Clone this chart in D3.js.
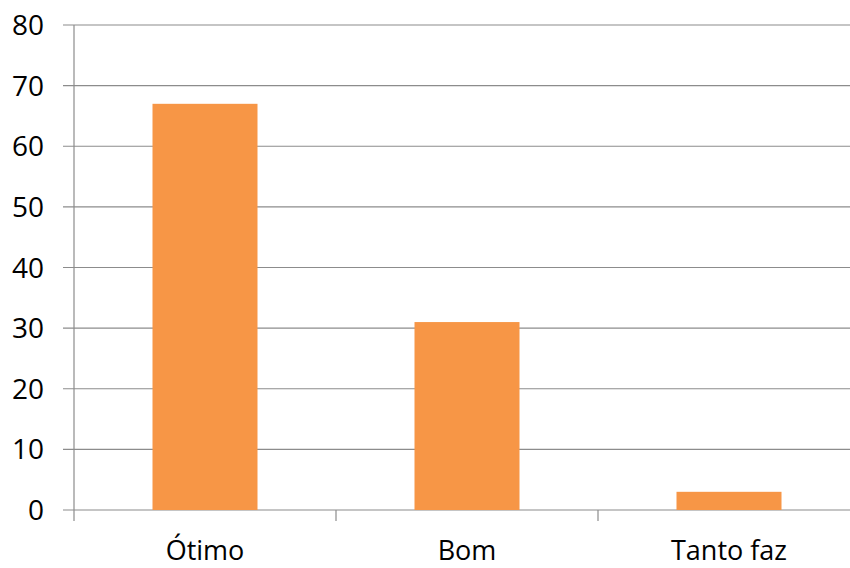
<!DOCTYPE html>
<html lang="en">
<head>
<meta charset="utf-8">
<title>Bar chart</title>
<script src="https://d3js.org/d3.v7.min.js"></script>
<style>
  body { margin: 0; background: #fff; }
  text { font-family: "Liberation Sans Narrow", "Open Sans", "DejaVu Sans Condensed", sans-serif; fill: #000; }
</style>
</head>
<body>
<script>
// data
var categories = ["Ótimo", "Bom", "Tanto faz"];
var values = [67, 31, 3];
var yTicks = [0, 10, 20, 30, 40, 50, 60, 70, 80];

var w = 850, h = 568;
var mLeft = 74, mRight = 860, mTop = 25, mBottom = 510;

var svg = d3.select("body").append("svg").attr("width", w).attr("height", h);

var x = d3.scaleBand().domain(categories).range([mLeft, mRight]).paddingInner(0).paddingOuter(0);
var y = d3.scaleLinear().domain([0, 80]).range([mBottom, mTop]);

// gridlines
svg.selectAll("line.grid")
  .data(yTicks)
  .enter().append("line")
    .attr("class", "grid")
    .attr("x1", mLeft - 11).attr("x2", w)
    .attr("y1", d => y(d)).attr("y2", d => y(d))
    .attr("stroke", "#8c8c8c").attr("stroke-width", 1.2);

// y axis line
svg.append("line")
  .attr("x1", mLeft).attr("x2", mLeft)
  .attr("y1", mTop).attr("y2", mBottom)
  .attr("stroke", "#8c8c8c").attr("stroke-width", 1.2);

// y labels
svg.selectAll("text.ylab")
  .data(yTicks)
  .enter().append("text")
    .attr("class", "ylab")
    .attr("x", 44).attr("y", d => y(d))
    .attr("dy", "0.36em")
    .attr("text-anchor", "end")
    .style("font-size", "28px")
    .text(d => d);

// category tick marks
var catEdges = categories.map(c => x(c)).concat([x(categories[categories.length - 1]) + x.bandwidth()]);
svg.selectAll("line.xtick")
  .data(catEdges)
  .enter().append("line")
    .attr("class", "xtick")
    .attr("x1", d => d).attr("x2", d => d)
    .attr("y1", mBottom).attr("y2", mBottom + 11)
    .attr("stroke", "#8c8c8c").attr("stroke-width", 1.2);

// bars
var barW = 105;
svg.selectAll("rect.bar")
  .data(values)
  .enter().append("rect")
    .attr("class", "bar")
    .attr("x", (d, i) => x(categories[i]) + x.bandwidth() / 2 - barW / 2)
    .attr("y", d => y(d))
    .attr("width", barW)
    .attr("height", d => mBottom - y(d))
    .attr("fill", "#F79646");

// category labels
svg.selectAll("text.xlab")
  .data(categories)
  .enter().append("text")
    .attr("class", "xlab")
    .attr("x", d => x(d) + x.bandwidth() / 2)
    .attr("y", 560)
    .attr("text-anchor", "middle")
    .style("font-size", "27px")
    .text(d => d);
</script>
</body>
</html>
